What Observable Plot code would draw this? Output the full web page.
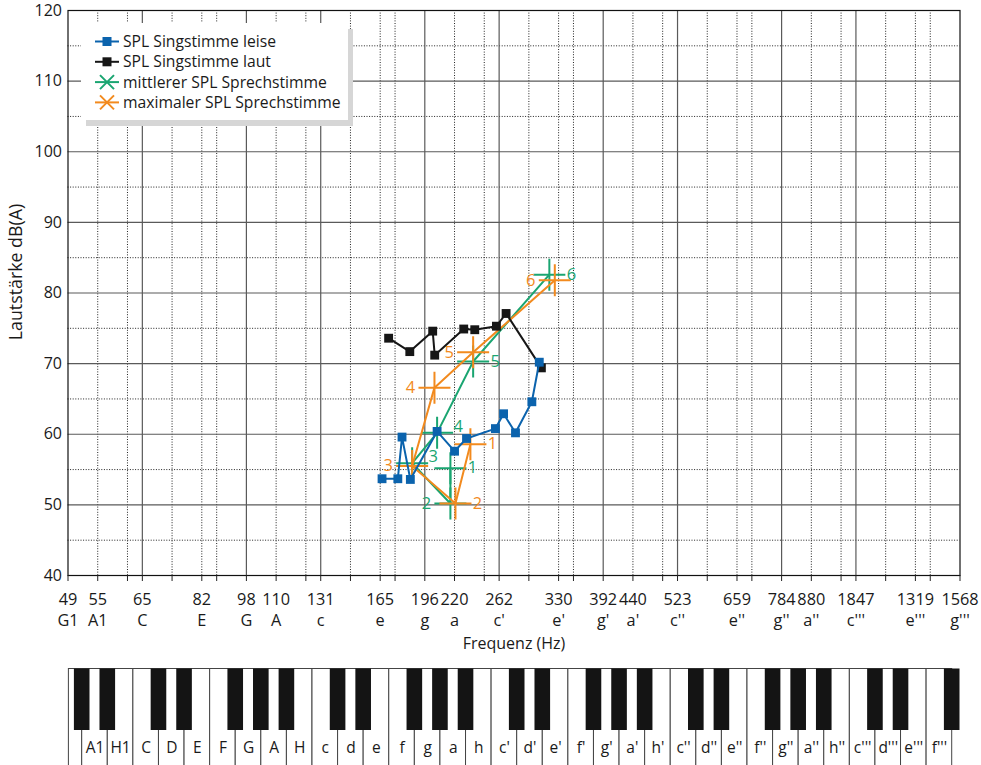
<!DOCTYPE html>
<html><head><meta charset="utf-8">
<script src="https://cdn.jsdelivr.net/npm/d3@7"></script>
<script src="https://cdn.jsdelivr.net/npm/@observablehq/plot@0.6"></script>
<style>
body{margin:0;background:#fff;}
#wrap{width:981px;height:765px;overflow:hidden;background:#fff}
#wrap svg{display:block}
</style></head><body><div id="wrap"></div>
<script>
// ---------- data ----------
const seriesNames = ["SPL Singstimme leise","SPL Singstimme laut","mittlerer SPL Sprechstimme","maximaler SPL Sprechstimme"];
const seriesColors = ["#0b63ad","#161616","#1aa571","#f28a1e"];

// Singstimme leise (Hz, dB(A))
const leiseHz = [166, 176.5, 179.4, 185.3, 205.6, 220, 230.5, 257.9, 266.2, 278.8, 297.1, 305.8];
const leiseDb = [53.7, 53.7, 59.6, 53.6, 60.4, 57.6, 59.4, 60.8, 62.9, 60.2, 64.6, 70.2];
// Singstimme laut
const lautHz = [170.3, 184.9, 202.1, 203.7, 228, 238, 258.9, 268.8, 308.3];
const lautDb = [73.6, 71.7, 74.6, 71.2, 74.9, 74.8, 75.3, 77.1, 69.4];
// Sprechstimme, points 1..6
const sprechNr = ["1","2","3","4","5","6"];
const mittelHz = [216.5, 216.5, 186.6, 205.6, 236.5, 318];
const mittelDb = [55.2, 50.2, 55.9, 60.2, 70.3, 82.6];
const maxHz = [234, 220.8, 186.6, 203.5, 236.5, 324.8];
const maxDb = [58.6, 50.2, 55.5, 66.6, 71.6, 81.8];
// where each number sits next to its cross
const mittelLabelSide = ["right","left","upright","upright","right","right"];
const maxLabelSide = ["right","right","left","left","left","left"];

// axis
const yTicks = [40,50,60,70,80,90,100,110,120];
const yMinor = [45,55,65,75,85,95,105,115];
const whiteKeyHz = [55,61.74,65.41,73.42,82.41,87.31,98,110,123.47,130.81,146.83,164.81,174.61,196,220,246.94,261.63,293.66,329.63,349.23,392,440,493.88,523.25,587.33,659.26,698.46,784,880,987.77,1046.5,1174.66,1318.51,1396.91];
const cgHz = [65.41,98,130.81,196,261.63,392,523.25,784,1046.5];
const labelHz = [49,55,65.41,82.41,98,110,130.81,164.81,196,220,261.63,329.63,392,440,523.25,659.26,784,880,1046.5,1318.51,1568];
const hzLabels = ["49","55","65","82","98","110","131","165","196","220","262","330","392","440","523","659","784","880","1847","1319","1568"];
const noteLabels = ["G1","A1","C","E","G","A","c","e","g","a","c'","e'","g'","a'","c''","e''","g''","a''","c'''","e'''","g'''"];

// keyboard
const keyNames = ["A1","H1","C","D","E","F","G","A","H","c","d","e","f","g","a","h","c'","d'","e'","f'","g'","a'","h'","c''","d''","e''","f''","g''","a''","h''","c'''","d'''","e'''","f'''"];
const blackAfterLast = true;

// ---------- build ----------
const FONT = "'Open Sans', 'Noto Sans', sans-serif";
const leise = leiseHz.map((f,i)=>({f, v: leiseDb[i]}));
const laut = lautHz.map((f,i)=>({f, v: lautDb[i]}));
const mittel = mittelHz.map((f,i)=>({f, v: mittelDb[i], t: sprechNr[i], side: mittelLabelSide[i]}));
const maxi = maxHz.map((f,i)=>({f, v: maxDb[i], t: sprechNr[i], side: maxLabelSide[i]}));

const thinPlus = {draw(ctx, size){ const r = Math.sqrt(size/Math.PI); ctx.moveTo(-r,0); ctx.lineTo(r,0); ctx.moveTo(0,-r); ctx.lineTo(0,r); }};

const sideOffsets = {right:[22,0], left:[-24,0], upright:[21,-6]};
function numberLabels(data, color){
  return Object.entries(sideOffsets).map(([side,[dx,dy]]) =>
    Plot.text(data.filter(d=>d.side===side), {x:"f", y:"v", text:"t", dx, dy, fill:color, fontSize:16.5}));
}

const minorX = whiteKeyHz.filter(f => !cgHz.includes(f));

const main = Plot.plot({
  width: 981, height: 660,
  marginLeft: 67.5, marginRight: 21.5, marginTop: 10, marginBottom: 85,
  x: {type:"log", domain:[49,1568]},
  y: {domain:[40,120]},
  style: {fontFamily: FONT, background:"white", color:"#1a1a1a"},
  marks: [
    Plot.ruleY(yMinor, {stroke:"#222", strokeDasharray:"1,1.6", strokeWidth:1}),
    Plot.ruleX(minorX, {stroke:"#222", strokeDasharray:"1,1.6", strokeWidth:1}),
    Plot.ruleY(yTicks.slice(1,-1), {stroke:"#5a5a5a", strokeWidth:1.2}),
    Plot.ruleX(cgHz, {stroke:"#5a5a5a", strokeWidth:1.2}),
    Plot.frame({stroke:"#111", strokeWidth:1.2}),
    Plot.axisX({ticks: whiteKeyHz.concat([49,1568]), tickSize:6, tickFormat: () => "", stroke:"#222", label:null}),
    Plot.axisY({ticks: yTicks, tickSize:0, tickPadding:6, fontSize:16, label:null, tickFormat: d=>String(d)}),
    Plot.text(labelHz, {x: d=>d, text: (d,i)=> hzLabels[i] + "\n" + noteLabels[i], frameAnchor:"bottom", lineAnchor:"top", dy:14, fontSize:16.3, lineHeight:1.3, fill:"#1a1a1a"}),
    Plot.text(["Frequenz (Hz)"], {frameAnchor:"bottom", dy:73, fontSize:16, fill:"#1a1a1a"}),
    Plot.text(["Lautstärke dB(A)"], {frameAnchor:"left", textAnchor:"middle", dx:-52, dy:-21, rotate:-90, fontSize:17.8, fill:"#1a1a1a"}),
    // Sprechstimme
    Plot.line(mittel, {x:"f", y:"v", stroke:seriesColors[2], strokeWidth:2}),
    Plot.dot(mittel, {x:"f", y:"v", symbol: thinPlus, r:16, stroke:seriesColors[2], strokeWidth:2, fill:"none"}),
    Plot.line(maxi, {x:"f", y:"v", stroke:seriesColors[3], strokeWidth:2}),
    Plot.dot(maxi, {x:"f", y:"v", symbol: thinPlus, r:16, stroke:seriesColors[3], strokeWidth:2, fill:"none"}),
    ...numberLabels(mittel, seriesColors[2]),
    ...numberLabels(maxi, seriesColors[3]),
    // Singstimme
    Plot.line(laut, {x:"f", y:"v", stroke:seriesColors[1], strokeWidth:2}),
    Plot.dot(laut, {x:"f", y:"v", symbol:"square", r:5, fill:seriesColors[1]}),
    Plot.line(leise, {x:"f", y:"v", stroke:seriesColors[0], strokeWidth:2}),
    Plot.dot(leise, {x:"f", y:"v", symbol:"square", r:5, fill:seriesColors[0]})
  ]
});

// legend inside the plot
{
  const svg = d3.select(main);
  const g = svg.append("g").attr("font-family", FONT).attr("font-size", 15.7).attr("fill", "#1a1a1a").attr("text-anchor","start");
  g.append("rect").attr("x",86).attr("y",29).attr("width",267).attr("height",97).attr("fill","#d6d6d6");
  g.append("rect").attr("x",81).attr("y",23).attr("width",267).attr("height",97).attr("fill","white");
  seriesNames.forEach((name,i)=>{
    const yy = 41.5 + i*20.3, c = seriesColors[i];
    g.append("line").attr("x1",95).attr("x2",119).attr("y1",yy).attr("y2",yy).attr("stroke",c).attr("stroke-width",2);
    if (i < 2) {
      g.append("rect").attr("x",102.5).attr("y",yy-4.5).attr("width",9).attr("height",9).attr("fill",c);
    } else {
      g.append("path").attr("d",`M${107-7},${yy-7}L${107+7},${yy+7}M${107-7},${yy+7}L${107+7},${yy-7}`).attr("stroke",c).attr("stroke-width",2);
    }
    g.append("text").attr("x",123).attr("y",yy).attr("dy","0.35em").attr("text-anchor","start").text(name);
  });
}

// keyboard
const whiteKeys = keyNames.map((k,i)=>({i, k}));
const blackIdx = keyNames.map((k,i)=>({i, l: k[0].toUpperCase()})).filter(d => "DEGAH".includes(d.l)).map(d=>d.i);
if (blackAfterLast) blackIdx.push(keyNames.length);
const keyboard = Plot.plot({
  width: 981, height: 105,
  marginLeft: 81.7, marginRight: 29.3, marginTop: 0, marginBottom: 0,
  x: {domain:[0, keyNames.length], axis:null},
  y: {domain:[0,105], range:[0,105], axis:null},
  style: {fontFamily: FONT, background:"white"},
  marks: [
    Plot.rect([{a:-0.52, b:0}], {x1:"a", x2:"b", y1:8.5, y2:140, fill:"white", stroke:"#444", strokeWidth:1}),
    Plot.rect(whiteKeys, {x1:"i", x2: d=>d.i+1, y1:8.5, y2:140, fill:"white", stroke:"#444", strokeWidth:1}),
    Plot.rect(blackIdx, {x1: d=>d-0.305, x2: d=>d+0.305, y1:8.5, y2:70, fill:"#141414"}),
    Plot.text(whiteKeys, {x: d=>d.i+0.5, y: 88, text:"k", fontSize:15.5, fill:"#1a1a1a"})
  ]
});

const wrap = document.getElementById("wrap");
wrap.appendChild(main);
wrap.appendChild(keyboard);
</script></body></html>
